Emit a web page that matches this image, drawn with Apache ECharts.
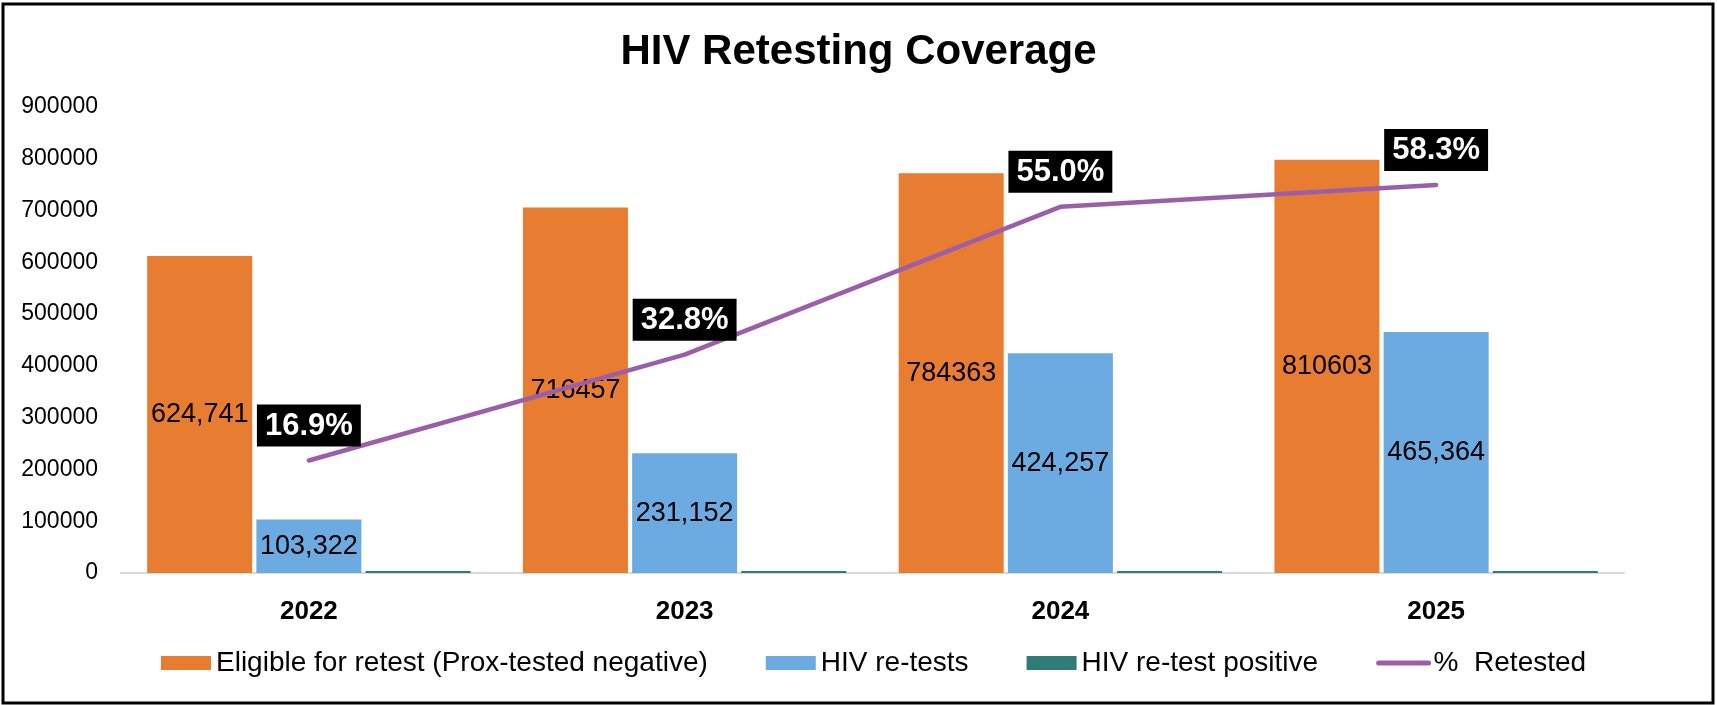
<!DOCTYPE html>
<html>
<head>
<meta charset="utf-8">
<script src="https://cdn.jsdelivr.net/npm/echarts@6/dist/echarts.min.js"></script>
<style>
  html, body { margin: 0; padding: 0; background: #fff; }
  #chart { width: 1717px; height: 705px; }
</style>
</head>
<body>
<div id="chart"></div>
<script>
// 年份
const years = ['2022', '2023', '2024', '2025'];
// 柱高
const eligible = [612000, 706000, 772000, 798000];
const eligibleLabels = ['624,741', '716457', '784363', '810603'];
const retests = [103322, 231152, 424257, 465364];
const retestPositive = [4000, 4000, 4000, 4000];
// 百分比
const pctRetested = [16.9, 32.8, 55.0, 58.3];
const yTicks = [0, 100000, 200000, 300000, 400000, 500000, 600000, 700000, 800000, 900000];

const font = 'Liberation Sans, Arial, sans-serif';

const chart = echarts.init(document.getElementById('chart'));
chart.setOption({
  animation: false,
  textStyle: { fontFamily: font, color: '#000' },
  title: {
    text: 'HIV Retesting Coverage',
    left: 'center',
    top: 26,
    textStyle: { fontFamily: font, fontSize: 42, fontWeight: 'bold', color: '#000' },
  },
  graphic: [
    {
      type: 'rect',
      shape: { x: 3, y: 4, width: 1710, height: 699 },
      style: { fill: 'none', stroke: '#000', lineWidth: 3 },
      silent: true,
    },
  ],
  legend: {
    bottom: 23,
    left: 156,
    itemGap: 58,
    itemWidth: 50,
    itemHeight: 14,
    textStyle: { fontFamily: font, fontSize: 28, color: '#000' },
    data: [
      { name: 'Eligible for retest (Prox-tested negative)', icon: 'rect' },
      { name: 'HIV re-tests', icon: 'rect' },
      { name: 'HIV re-test positive', icon: 'rect' },
      { name: '%  Retested', itemStyle: { opacity: 0 }, lineStyle: { width: 5, cap: 'round' } },
    ],
  },
  grid: {
    left: 121,
    right: 93,
    top: 107,
    bottom: 132,
  },
  xAxis: {
    type: 'category',
    data: years,
    axisLine: { lineStyle: { color: '#d9d9d9', width: 2 } },
    axisTick: { show: false },
    axisLabel: {
      fontFamily: font,
      fontSize: 26,
      fontWeight: 'bold',
      color: '#000',
      margin: 26,
    },
  },
  yAxis: [
    {
      type: 'value',
      min: yTicks[0],
      max: yTicks[yTicks.length - 1],
      interval: 100000,
      splitLine: { show: false },
      axisLine: { show: false },
      axisTick: { show: false },
      axisLabel: {
        fontFamily: font,
        fontSize: 23,
        color: '#000',
        margin: 23,
        formatter: (v) => String(v),
      },
    },
    {
      type: 'value',
      min: 0,
      max: 70,
      show: false,
      splitLine: { show: false },
    },
  ],
  series: [
    {
      name: 'Eligible for retest (Prox-tested negative)',
      type: 'bar',
      barWidth: 105,
      barGap: '4%',
      itemStyle: { color: '#E87C30' },
      label: {
        show: true,
        position: 'inside',
        fontFamily: font,
        fontSize: 27,
        color: '#000',
        formatter: (p) => eligibleLabels[p.dataIndex],
      },
      data: eligible,
    },
    {
      name: 'HIV re-tests',
      type: 'bar',
      barWidth: 105,
      barGap: '4%',
      itemStyle: { color: '#6CABE2' },
      label: {
        show: true,
        position: 'inside',
        fontFamily: font,
        fontSize: 27,
        color: '#000',
        formatter: (p) => p.value.toLocaleString('en-US'),
      },
      data: retests,
    },
    {
      name: 'HIV re-test positive',
      type: 'bar',
      barWidth: 105,
      barGap: '4%',
      itemStyle: { color: '#2E7B78' },
      data: retestPositive,
    },
    {
      name: '%  Retested',
      type: 'line',
      yAxisIndex: 1,
      symbol: 'circle',
      symbolSize: 2,
      showSymbol: true,
      z: 5,
      lineStyle: { color: '#9B5FAA', width: 4.5, cap: 'round' },
      itemStyle: { color: '#9B5FAA' },
      label: {
        show: true,
        position: 'top',
        distance: 13,
        fontFamily: font,
        fontSize: 31,
        fontWeight: 'bold',
        color: '#fff',
        backgroundColor: '#000',
        padding: [6, 8, 5, 8],
        formatter: (p) => p.value.toFixed(1) + '%',
      },
      data: pctRetested,
    },
  ],
});
</script>
</body>
</html>
